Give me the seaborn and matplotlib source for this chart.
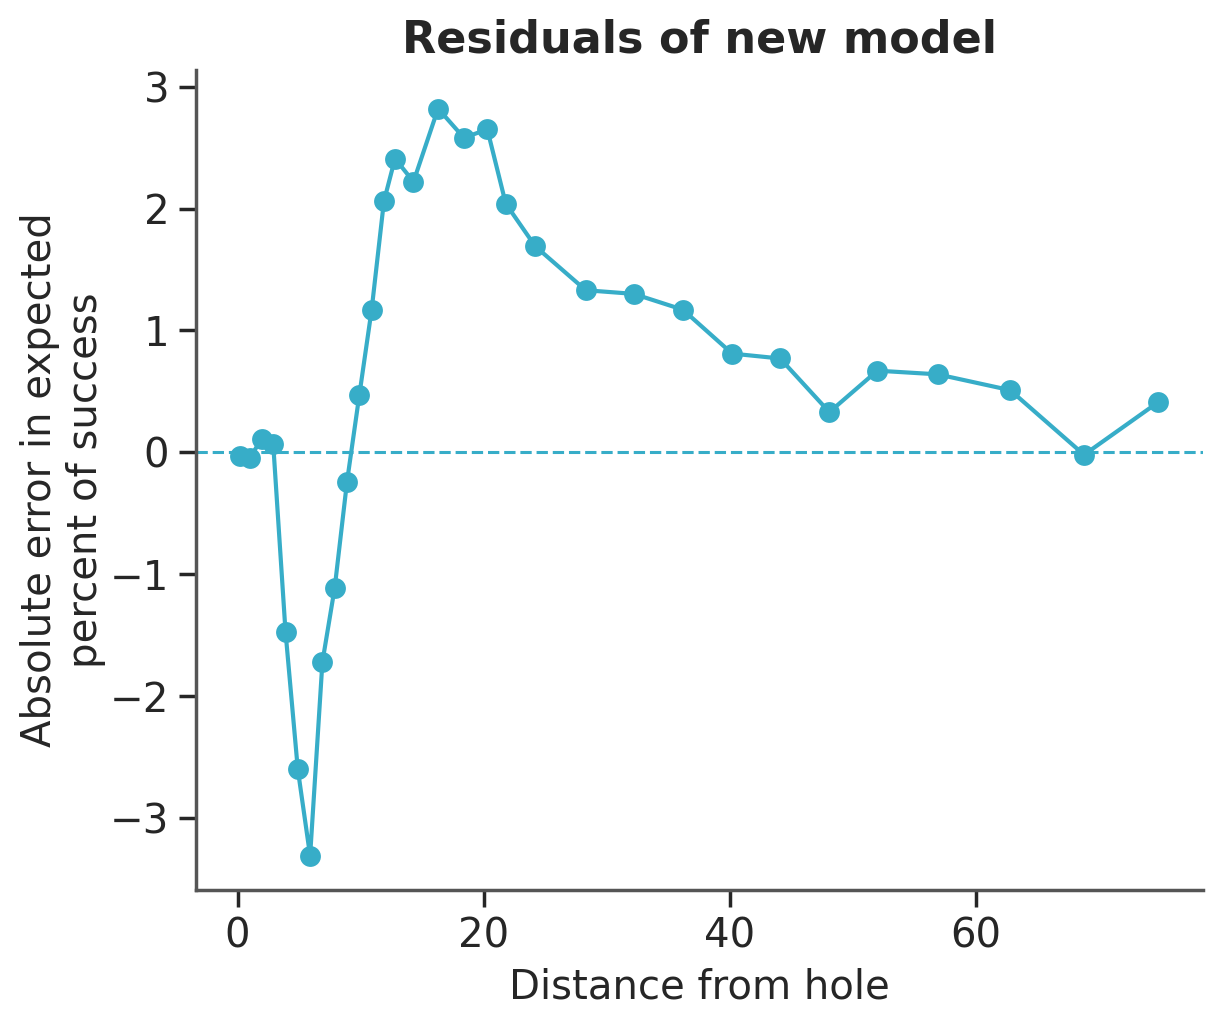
import numpy as np
import pandas as pd
import matplotlib
matplotlib.use("Agg")
import matplotlib.pyplot as plt
import seaborn as sns

# Residuals
distance = [0.24, 0.98, 1.95, 2.9, 3.9, 4.9, 5.9, 6.9, 7.9, 8.9, 9.9, 10.9,
            11.9, 12.8, 14.3, 16.3, 18.4, 20.3, 21.8, 24.2, 28.3, 32.2, 36.2,
            40.2, 44.1, 48.1, 52.0, 56.9, 62.8, 68.8, 74.8]
residual = [-0.03, -0.05, 0.11, 0.07, -1.47, -2.60, -3.31, -1.72, -1.11, -0.24,
            0.47, 1.17, 2.06, 2.41, 2.22, 2.82, 2.58, 2.65, 2.04, 1.69, 1.33,
            1.30, 1.17, 0.81, 0.77, 0.33, 0.67, 0.64, 0.51, -0.02, 0.41]

df = pd.DataFrame({"distance": distance, "residual": residual})
color = "#37adc8"

sns.set_theme(style="ticks")
plt.rcParams["font.family"] = ["DejaVu Sans"]
plt.rcParams["axes.edgecolor"] = "#555555"

fig, ax = plt.subplots(figsize=(6.115, 5.115), dpi=200)
sns.lineplot(data=df, x="distance", y="residual", color=color, marker="o",
             markersize=7.5, markeredgewidth=0, linewidth=1.5, ax=ax)
ax.axhline(0, color=color, linestyle="--", linewidth=1.1)

ax.set_xlim(-3.4, 78.5)
ax.set_ylim(-3.59, 3.14)
ax.set_xticks([0, 20, 40, 60])
ax.set_yticks([-3, -2, -1, 0, 1, 2, 3])
ax.tick_params(labelsize=14.5)
ax.set_xlabel("Distance from hole", fontsize=14.5)
ax.set_ylabel("Absolute error in expected\npercent of success", fontsize=14.5,
              labelpad=1.5)
ax.set_title("Residuals of new model", fontsize=16, fontweight="bold")
sns.despine(ax=ax)

fig.subplots_adjust(left=0.160, right=0.984, top=0.932, bottom=0.130)
plt.savefig("out.png", dpi=200)
